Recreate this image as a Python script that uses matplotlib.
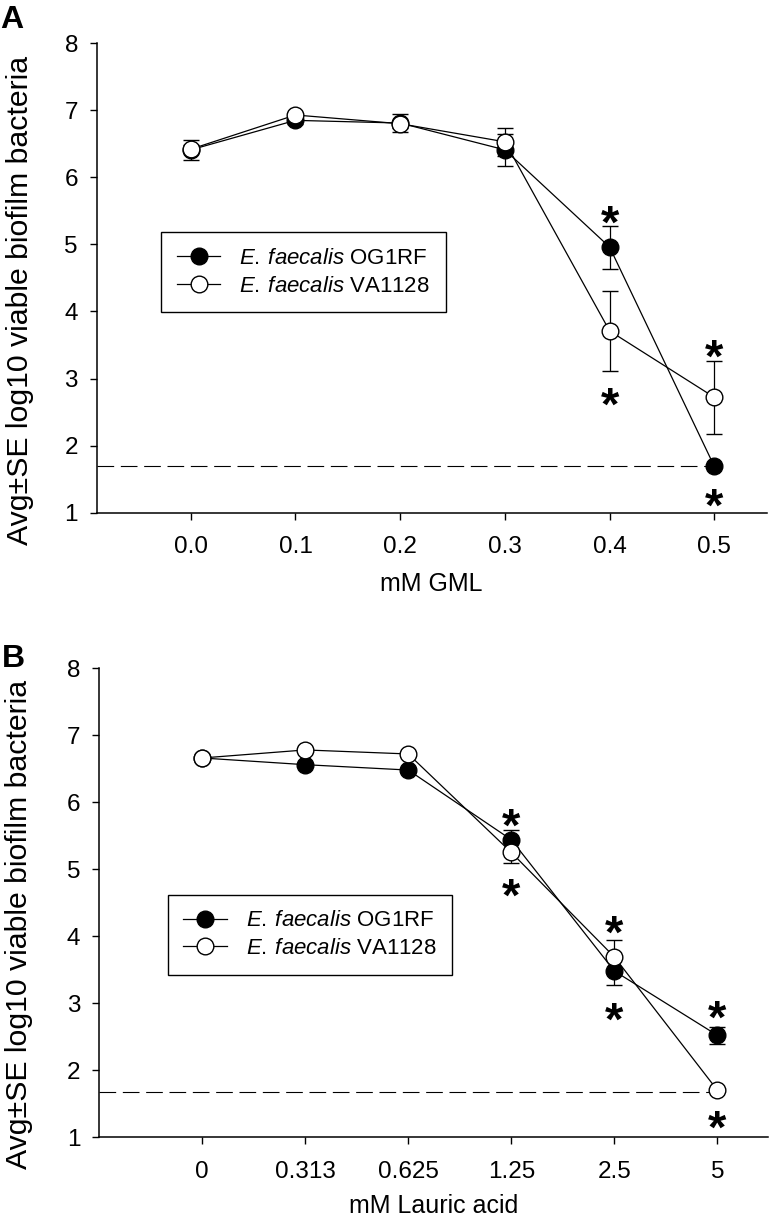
import matplotlib
matplotlib.use('Agg')
import matplotlib.pyplot as plt
from matplotlib.lines import Line2D
from matplotlib.ticker import FormatStrFormatter

plt.rcParams['font.family'] = ['Liberation Sans', 'DejaVu Sans']
plt.rcParams['mathtext.fontset'] = 'custom'
plt.rcParams['mathtext.rm'] = 'Liberation Sans'
plt.rcParams['mathtext.it'] = 'Liberation Sans:italic'

# Panel A: GML
gml_conc = [0.0, 0.1, 0.2, 0.3, 0.4, 0.5]
gml_og1rf = [6.41, 6.85, 6.81, 6.41, 4.96, 1.69]
gml_og1rf_se = [0.15, 0.05, 0.13, 0.24, 0.32, 0.03]
gml_va1128 = [6.42, 6.93, 6.80, 6.53, 3.71, 2.72]
gml_va1128_se = [0.06, 0.05, 0.06, 0.21, 0.60, 0.54]
gml_star_x = [0.4, 0.4, 0.5, 0.5]
gml_star_y = [5.50, 2.79, 3.51, 1.29]
gml_limit = 1.69

# Panel B: lauric acid (categorical x)
la_labels = ['0', '0.313', '0.625', '1.25', '2.5', '5']
la_og1rf = [6.66, 6.56, 6.48, 5.44, 3.48, 2.52]
la_og1rf_se = [0.04, 0.04, 0.04, 0.15, 0.21, 0.13]
la_va1128 = [6.66, 6.78, 6.72, 5.25, 3.69, 1.70]
la_va1128_se = [0.04, 0.04, 0.04, 0.16, 0.25, 0.03]
la_star_x = [3, 3, 4, 4, 5, 5]
la_star_y = [5.83, 4.78, 4.23, 2.93, 2.96, 1.32]
la_limit = 1.675

labels = [r'$\it{E.\:faecalis}$ OG1RF', r'$\it{E.\:faecalis}$ VA1128']
ylab = 'Avg±SE log10 viable biofilm bacteria'

fig = plt.figure(figsize=(7.7, 12.18), dpi=100)
axA = fig.add_axes([0.1256, 0.5791, 0.8701, 0.3854])
axB = fig.add_axes([0.1286, 0.0663, 0.8688, 0.3851])


def draw(ax, x, y1, e1, y2, e2, limit, xlim, sx, sy, leg_xy, xlabel, lab_x, xlab_y):
    ax.hlines(limit, xlim[0], x[-1], colors='black', lw=0.8,
              linestyles=(0, (15, 6)), zorder=1)
    ax.errorbar(x, y1, yerr=e1, color='black', lw=0.9, elinewidth=0.9,
                capsize=6, capthick=0.9, marker='o', ms=12, mfc='black',
                mec='black', mew=1, zorder=3)
    ax.errorbar(x, y2, yerr=e2, color='black', lw=0.9, elinewidth=0.9,
                capsize=6, capthick=0.9, marker='o', ms=12, mfc='white',
                mec='black', mew=1, zorder=4)
    for xs, ys in zip(sx, sy):
        ax.annotate('*', (xs, ys), xytext=(0, -19.5), textcoords='offset points',
                    ha='center', va='baseline', fontsize=34, fontweight='bold')
    ax.set_xlim(xlim)
    ax.set_ylim(1, 8)
    ax.set_yticks(range(1, 9))
    for s in ['top', 'right']:
        ax.spines[s].set_visible(False)
    for s in ['left', 'bottom']:
        ax.spines[s].set_linewidth(1.1)
    ax.tick_params(axis='both', direction='out', length=5, width=1, labelsize=17.5)
    ax.tick_params(axis='x', pad=12)
    ax.tick_params(axis='y', pad=8.5)
    ax.set_xlabel(xlabel, fontsize=18)
    ax.xaxis.set_label_coords(0.5, xlab_y)
    ax.set_ylabel(ylab, fontsize=21.8)
    ax.yaxis.set_label_coords(lab_x, 0.453)
    handles = [Line2D([], [], color='black', lw=0.9, marker='o', ms=12,
                      mfc='black', mec='black', mew=1),
               Line2D([], [], color='black', lw=0.9, marker='o', ms=12,
                      mfc='white', mec='black', mew=1)]
    leg = ax.legend(handles, labels, loc='upper left', bbox_to_anchor=leg_xy,
                    fontsize=16, frameon=True, fancybox=False, borderaxespad=0,
                    handlelength=1.95, handletextpad=0.85, borderpad=0.7,
                    labelspacing=0.3)
    leg.get_frame().set_edgecolor('black')
    leg.get_frame().set_linewidth(1.0)
    leg.get_frame().set_alpha(1)


draw(axA, gml_conc, gml_og1rf, gml_og1rf_se, gml_va1128, gml_va1128_se,
     gml_limit, (-0.0898, 0.55), gml_star_x, gml_star_y, (0.0967, 0.597),
     'mM GML', -0.094, -0.127)
axA.set_xticks(gml_conc)
axA.xaxis.set_major_formatter(FormatStrFormatter('%.1f'))

xB = list(range(len(la_labels)))
draw(axB, xB, la_og1rf, la_og1rf_se, la_va1128, la_va1128_se,
     la_limit, (-1, 5.49), la_star_x, la_star_y, (0.103, 0.517),
     'mM Lauric acid', -0.098, -0.121)
axB.set_xticks(xB)
axB.set_xticklabels(la_labels)

fig.text(0.0, 0.996, 'A', fontsize=23, fontweight='bold', va='top', ha='left')
fig.text(0.002, 0.4715, 'B', fontsize=23, fontweight='bold', va='top', ha='left')

plt.savefig('out.png', dpi=100)
